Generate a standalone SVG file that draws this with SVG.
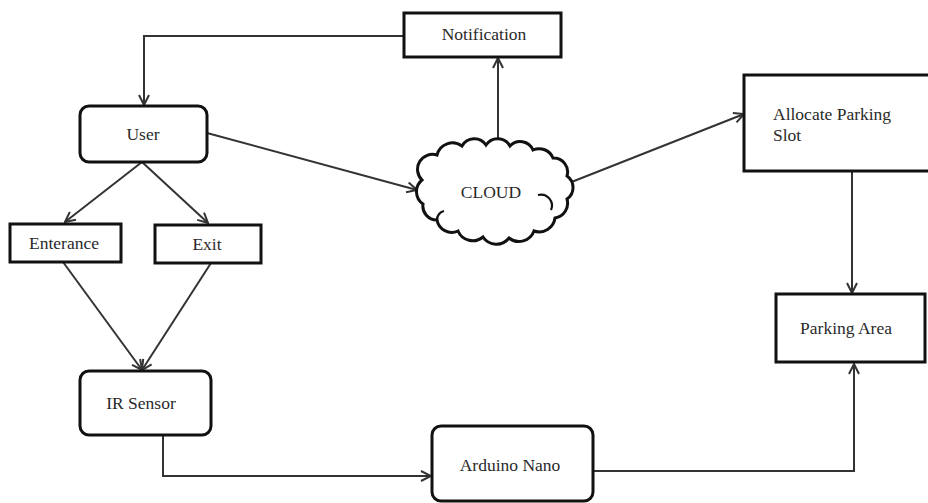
<svg xmlns="http://www.w3.org/2000/svg" width="928" height="503" viewBox="0 0 928 503">
<style>
.box{fill:#fff;stroke:#111;stroke-width:3}
.lbl{font-family:'Liberation Serif','Tinos','DejaVu Serif','Times New Roman',serif;font-size:17.5px;fill:#2a2a2a}
.c{text-anchor:middle}
.con{fill:none;stroke:#333;stroke-width:2}
</style>
<defs>
<marker id="arr" viewBox="0 0 12 12" refX="11" refY="6" markerWidth="12" markerHeight="12" markerUnits="userSpaceOnUse" orient="auto">
<path d="M1,1 L11,6 L1,11" fill="none" stroke="#333" stroke-width="2"/>
</marker>
</defs>
<rect width="928" height="503" fill="#fff"/>
<g id="connectors">
<path class="con" d="M404,36 H144 V105" marker-end="url(#arr)"/>
<path class="con" d="M498,148 V58" marker-end="url(#arr)"/>
<path class="con" d="M207,133 L417,190" marker-end="url(#arr)"/>
<path class="con" d="M569,183 L744,114" marker-end="url(#arr)"/>
<path class="con" d="M852,171 V293" marker-end="url(#arr)"/>
<path class="con" d="M142,162 L65,222" marker-end="url(#arr)"/>
<path class="con" d="M142,162 L208,223" marker-end="url(#arr)"/>
<path class="con" d="M63,262 L142,370" marker-end="url(#arr)"/>
<path class="con" d="M211,263 L142,370" marker-end="url(#arr)"/>
<path class="con" d="M163,435 V476 H431" marker-end="url(#arr)"/>
<path class="con" d="M593,471 H854 V364" marker-end="url(#arr)"/>
</g>
<g id="notification">
<rect class="box" x="404" y="13" width="157" height="44"/>
<text class="lbl c" x="484" y="40">Notification</text>
</g>
<g id="user">
<rect class="box" x="80" y="106" width="127" height="56" rx="9"/>
<text class="lbl c" x="143" y="140">User</text>
</g>
<g id="cloud">
<path class="box" stroke-width="2.5" d="M422,180 A15,15 0 0 1 437,155 A16,16 0 0 1 462,146 A14,14 0 0 1 486,145 A14,14 0 0 1 510,146 A14,14 0 0 1 533,150 A15,15 0 0 1 553,158 A14,14 0 0 1 567,176 A14,14 0 0 1 567,199 A15,15 0 0 1 555,218 A16,16 0 0 1 534,231 A16,16 0 0 1 509,238 A16,16 0 0 1 483,237 A16,16 0 0 1 458,231 A15,15 0 0 1 437,220 A14,14 0 0 1 423,204 A15,15 0 0 1 422,180 Z"/>
<path fill="none" stroke="#111" stroke-width="2.2" d="M538,195 A11,11 0 0 1 551,210"/>
<path fill="none" stroke="#111" stroke-width="2.2" d="M437,220 A9,9 0 0 1 444,211"/>
<text class="lbl c" x="491" y="198">CLOUD</text>
</g>
<g id="allocate">
<rect class="box" x="744" y="75" width="200" height="96"/>
<text class="lbl" x="773" y="120">Allocate Parking</text>
<text class="lbl" x="773" y="141">Slot</text>
</g>
<g id="parking-area">
<rect class="box" x="776" y="294" width="149" height="68"/>
<text class="lbl c" x="846" y="334">Parking Area</text>
</g>
<g id="enterance">
<rect class="box" x="10" y="224" width="111" height="38"/>
<text class="lbl c" x="64" y="249">Enterance</text>
</g>
<g id="exit">
<rect class="box" x="155" y="225" width="106" height="38"/>
<text class="lbl c" x="207" y="250">Exit</text>
</g>
<g id="ir-sensor">
<rect class="box" x="80" y="371" width="131" height="64" rx="9"/>
<text class="lbl c" x="141" y="409">IR Sensor</text>
</g>
<g id="arduino">
<rect class="box" x="432" y="426" width="161" height="75" rx="9"/>
<text class="lbl c" x="510" y="471">Arduino Nano</text>
</g>
</svg>
